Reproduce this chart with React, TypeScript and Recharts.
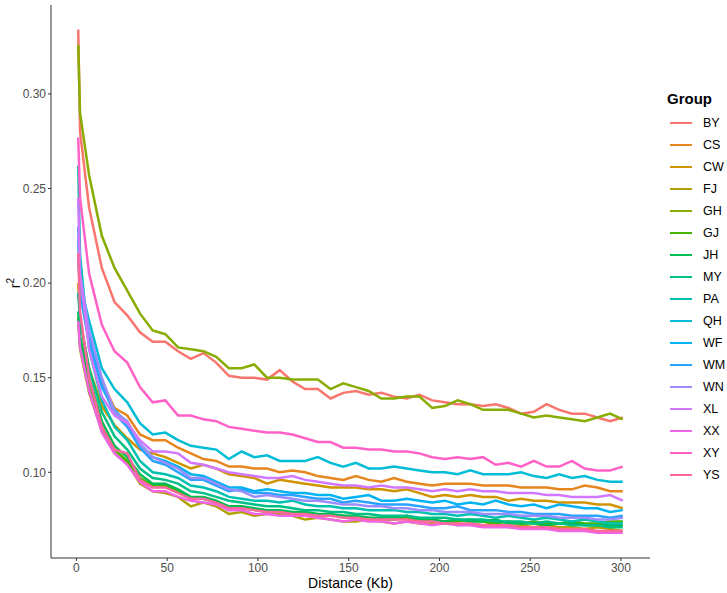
import { Line, LineChart, XAxis, YAxis } from "recharts";

// distance bins (Kb)
const distance = [
  1, 2, 7, 14, 21, 28, 35, 42, 49, 56, 63, 70, 77, 84, 91, 98, 105, 112, 119, 126, 133, 140, 147,
  154, 161, 168, 175, 182, 189, 196, 203, 210, 217, 224, 231, 238, 245, 252, 259, 266, 273, 280,
  287, 294, 301,
];

const groups = ["BY", "CS", "CW", "FJ", "GH", "GJ", "JH", "MY", "PA", "QH", "WF", "WM", "WN", "XL", "XX", "XY", "YS"];

// mean r^2 per bin, one list per group
const BY = [
  0.334, 0.28, 0.24, 0.208, 0.19, 0.183, 0.174, 0.169, 0.169, 0.164, 0.16, 0.163, 0.158, 0.151, 0.15, 0.15, 0.149,
  0.154, 0.148, 0.144, 0.144, 0.139, 0.142, 0.143, 0.141, 0.142, 0.14, 0.139, 0.141, 0.138, 0.137, 0.136, 0.136,
  0.135, 0.136, 0.134, 0.131, 0.132, 0.136, 0.133, 0.131, 0.131, 0.129, 0.127, 0.129,
];
const CS = [
  0.216, 0.195, 0.17, 0.148, 0.134, 0.13, 0.12, 0.117, 0.117, 0.113, 0.11, 0.107, 0.106, 0.103, 0.103, 0.102, 0.102,
  0.1, 0.101, 0.1, 0.098, 0.097, 0.096, 0.098, 0.096, 0.095, 0.097, 0.095, 0.094, 0.093, 0.094, 0.094, 0.094, 0.093,
  0.093, 0.093, 0.092, 0.092, 0.092, 0.091, 0.091, 0.093, 0.092, 0.09, 0.09,
];
const CW = [
  0.2, 0.18, 0.155, 0.135, 0.125, 0.118, 0.112, 0.11, 0.108, 0.105, 0.102, 0.104, 0.102, 0.099, 0.098, 0.097, 0.094,
  0.096, 0.095, 0.094, 0.093, 0.092, 0.092, 0.092, 0.091, 0.091, 0.09, 0.091, 0.089, 0.087, 0.088, 0.087, 0.088,
  0.087, 0.087, 0.085, 0.086, 0.085, 0.085, 0.084, 0.084, 0.084, 0.083, 0.083, 0.081,
];
const FJ = [
  0.18, 0.165, 0.142, 0.122, 0.11, 0.105, 0.094, 0.09, 0.089, 0.087, 0.082, 0.084, 0.082, 0.078, 0.079, 0.077,
  0.078, 0.078, 0.077, 0.075, 0.076, 0.075, 0.074, 0.074, 0.075, 0.074, 0.073, 0.074, 0.073, 0.073, 0.074, 0.072,
  0.073, 0.072, 0.073, 0.071, 0.072, 0.071, 0.072, 0.071, 0.071, 0.07, 0.071, 0.07, 0.069,
];
const GH = [
  0.326, 0.29, 0.257, 0.225, 0.208, 0.196, 0.184, 0.175, 0.173, 0.166, 0.165, 0.164, 0.161, 0.155, 0.155, 0.157,
  0.15, 0.15, 0.149, 0.149, 0.149, 0.144, 0.147, 0.145, 0.143, 0.139, 0.139, 0.14, 0.14, 0.134, 0.135, 0.138, 0.136,
  0.133, 0.133, 0.133, 0.131, 0.129, 0.13, 0.129, 0.128, 0.127, 0.129, 0.131, 0.128,
];
const GJ = [
  0.182, 0.168, 0.145, 0.124, 0.112, 0.106, 0.097, 0.093, 0.093, 0.09, 0.086, 0.086, 0.084, 0.082, 0.081, 0.08,
  0.079, 0.079, 0.078, 0.078, 0.077, 0.077, 0.077, 0.076, 0.076, 0.075, 0.075, 0.076, 0.075, 0.074, 0.074, 0.074,
  0.075, 0.074, 0.073, 0.074, 0.073, 0.074, 0.073, 0.073, 0.074, 0.073, 0.073, 0.074, 0.074,
];
const JH = [
  0.185, 0.172, 0.15, 0.127, 0.114, 0.108, 0.099, 0.094, 0.094, 0.091, 0.087, 0.087, 0.085, 0.082, 0.082, 0.081,
  0.08, 0.08, 0.079, 0.079, 0.078, 0.078, 0.077, 0.077, 0.076, 0.076, 0.076, 0.077, 0.075, 0.075, 0.074, 0.075,
  0.074, 0.074, 0.075, 0.073, 0.073, 0.073, 0.072, 0.073, 0.073, 0.072, 0.072, 0.072, 0.072,
];
const MY = [
  0.195, 0.18, 0.155, 0.132, 0.119, 0.112, 0.102, 0.097, 0.096, 0.094, 0.09, 0.089, 0.087, 0.085, 0.084, 0.083,
  0.082, 0.082, 0.081, 0.08, 0.08, 0.079, 0.079, 0.078, 0.078, 0.077, 0.077, 0.077, 0.076, 0.076, 0.076, 0.075,
  0.075, 0.075, 0.074, 0.074, 0.074, 0.073, 0.074, 0.073, 0.072, 0.072, 0.072, 0.071, 0.071,
];
const PA = [
  0.262, 0.215, 0.165, 0.138, 0.124, 0.117, 0.106, 0.1, 0.099, 0.097, 0.093, 0.092, 0.09, 0.087, 0.086, 0.085,
  0.085, 0.084, 0.085, 0.083, 0.082, 0.082, 0.081, 0.081, 0.08, 0.08, 0.08, 0.079, 0.079, 0.078, 0.078, 0.077,
  0.078, 0.077, 0.076, 0.077, 0.076, 0.075, 0.076, 0.075, 0.074, 0.075, 0.074, 0.073, 0.073,
];
const QH = [
  0.222, 0.2, 0.18, 0.155, 0.144, 0.137, 0.126, 0.12, 0.121, 0.117, 0.114, 0.113, 0.112, 0.107, 0.111, 0.108,
  0.109, 0.106, 0.106, 0.106, 0.108, 0.105, 0.103, 0.105, 0.102, 0.102, 0.103, 0.102, 0.101, 0.1, 0.1, 0.099,
  0.101, 0.099, 0.099, 0.099, 0.1, 0.098, 0.097, 0.099, 0.097, 0.098, 0.096, 0.095, 0.095,
];
const WF = [
  0.215, 0.195, 0.168, 0.145, 0.133, 0.126, 0.115, 0.108, 0.106, 0.103, 0.099, 0.098, 0.095, 0.092, 0.092, 0.09,
  0.091, 0.09, 0.089, 0.089, 0.088, 0.088, 0.086, 0.087, 0.088, 0.085, 0.085, 0.086, 0.085, 0.084, 0.085, 0.083,
  0.084, 0.083, 0.085, 0.083, 0.082, 0.083, 0.081, 0.083, 0.082, 0.081, 0.081, 0.079, 0.08,
];
const WM = [
  0.23, 0.205, 0.172, 0.146, 0.131, 0.124, 0.113, 0.106, 0.104, 0.1, 0.096, 0.096, 0.093, 0.09, 0.091, 0.089, 0.089,
  0.088, 0.088, 0.087, 0.086, 0.086, 0.084, 0.085, 0.084, 0.083, 0.083, 0.083, 0.082, 0.081, 0.081, 0.082, 0.08,
  0.08, 0.08, 0.079, 0.079, 0.078, 0.078, 0.078, 0.077, 0.077, 0.077, 0.076, 0.077,
];
const WN = [
  0.225, 0.205, 0.175, 0.15, 0.132, 0.127, 0.115, 0.108, 0.105, 0.102, 0.097, 0.097, 0.094, 0.091, 0.09, 0.087,
  0.088, 0.087, 0.086, 0.085, 0.085, 0.084, 0.083, 0.083, 0.082, 0.082, 0.081, 0.081, 0.08, 0.08, 0.079, 0.079,
  0.079, 0.078, 0.078, 0.078, 0.077, 0.077, 0.077, 0.076, 0.076, 0.076, 0.075, 0.075, 0.076,
];
const XL = [
  0.245, 0.205, 0.165, 0.14, 0.13, 0.126, 0.117, 0.111, 0.111, 0.11, 0.105, 0.104, 0.102, 0.1, 0.099, 0.098, 0.097,
  0.097, 0.098, 0.096, 0.095, 0.094, 0.093, 0.093, 0.092, 0.093, 0.092, 0.092, 0.091, 0.09, 0.091, 0.09, 0.091,
  0.09, 0.09, 0.089, 0.089, 0.089, 0.088, 0.088, 0.087, 0.087, 0.087, 0.088, 0.085,
];
const XX = [
  0.18, 0.166, 0.143, 0.121, 0.11, 0.104, 0.095, 0.09, 0.09, 0.087, 0.085, 0.084, 0.083, 0.08, 0.08, 0.078, 0.078,
  0.077, 0.077, 0.077, 0.076, 0.075, 0.074, 0.075, 0.074, 0.074, 0.073, 0.074, 0.073, 0.072, 0.073, 0.072, 0.072,
  0.071, 0.071, 0.071, 0.07, 0.07, 0.07, 0.069, 0.069, 0.069, 0.068, 0.068, 0.068,
];
const XY = [
  0.277, 0.245, 0.205, 0.178, 0.164, 0.158, 0.145, 0.137, 0.138, 0.13, 0.13, 0.128, 0.127, 0.124, 0.123, 0.122,
  0.121, 0.121, 0.12, 0.118, 0.116, 0.116, 0.113, 0.113, 0.112, 0.112, 0.111, 0.111, 0.11, 0.108, 0.107, 0.108,
  0.107, 0.108, 0.104, 0.105, 0.103, 0.106, 0.103, 0.103, 0.106, 0.102, 0.101, 0.101, 0.103,
];
const YS = [
  0.216, 0.185, 0.15, 0.124, 0.112, 0.11, 0.096, 0.092, 0.092, 0.089, 0.086, 0.086, 0.084, 0.081, 0.081, 0.08,
  0.079, 0.079, 0.078, 0.078, 0.077, 0.077, 0.076, 0.076, 0.075, 0.075, 0.075, 0.075, 0.074, 0.074, 0.073, 0.073,
  0.073, 0.072, 0.072, 0.072, 0.071, 0.071, 0.071, 0.07, 0.07, 0.07, 0.069, 0.069, 0.069,
];

const series: Record<string, number[]> = { BY, CS, CW, FJ, GH, GJ, JH, MY, PA, QH, WF, WM, WN, XL, XX, XY, YS };

const xTicks = [0, 50, 100, 150, 200, 250, 300];
const yTicks = [0.1, 0.15, 0.2, 0.25, 0.3];

// ggplot's default hue palette: hcl(h, c = 100, l = 65)
function hcl(h: number, c = 100, l = 65) {
  const hr = (h * Math.PI) / 180;
  const u = c * Math.cos(hr);
  const v = c * Math.sin(hr);
  const Xn = 95.047, Yn = 100, Zn = 108.883;
  const d = Xn + 15 * Yn + 3 * Zn;
  const un = (4 * Xn) / d, vn = (9 * Yn) / d;
  const Y = Yn * Math.pow((l + 16) / 116, 3);
  const up = u / (13 * l) + un;
  const vp = v / (13 * l) + vn;
  const X = (Y * 9 * up) / (4 * vp);
  const Z = (Y * (12 - 3 * up - 20 * vp)) / (4 * vp);
  const x = X / 100, y = Y / 100, z = Z / 100;
  const lin = [
    3.240479 * x - 1.53715 * y - 0.498535 * z,
    -0.969256 * x + 1.875992 * y + 0.041556 * z,
    0.055648 * x - 0.204043 * y + 1.057311 * z,
  ];
  return (
    "#" +
    lin
      .map((c) => {
        const g = c <= 0.0031308 ? 12.92 * c : 1.055 * Math.pow(c, 1 / 2.4) - 0.055;
        const n = Math.round(Math.min(1, Math.max(0, g)) * 255);
        return n.toString(16).padStart(2, "0");
      })
      .join("")
  );
}

const colors = groups.map((_, i) => hcl(15 + (i * 360) / groups.length));

const data = distance.map((d, i) => {
  const row: Record<string, number> = { d };
  groups.forEach((g) => (row[g] = series[g][i]));
  return row;
});

const font = "'Liberation Sans', Arial, Helvetica, sans-serif";

export default function App() {
  return (
    <div style={{ position: "absolute", left: 0, top: 0, width: 727, height: 593, fontFamily: font, background: "#fff" }}>
      <LineChart width={727} height={593} data={data} margin={{ top: 5, right: 77, bottom: 0, left: 0 }}>
        <XAxis
          dataKey="d"
          type="number"
          domain={[-14, 316]}
          ticks={xTicks}
          allowDataOverflow
          height={35}
          stroke="#333"
          tickSize={3}
          tick={{ fill: "#4d4d4d", fontSize: 12, fontFamily: font }}
          tickMargin={2}
          label={{ value: "Distance (Kb)", position: "insideBottom", offset: 5, fill: "#000", fontSize: 14, fontFamily: font }}
        />
        <YAxis
          type="number"
          domain={[0.0547, 0.347]}
          ticks={yTicks}
          allowDataOverflow
          width={51}
          stroke="#333"
          tickSize={3}
          tickMargin={2}
          tickFormatter={(v: number) => v.toFixed(2)}
          tick={{ fill: "#4d4d4d", fontSize: 12, fontFamily: font }}
          label={{
            content: () => (
              <text x={20} y={283} transform="rotate(-90 20 283)" textAnchor="middle" fontSize={14} fontFamily={font} fill="#000">
                r<tspan dy={-6} fontSize={10}>2</tspan>
              </text>
            ),
          }}
        />
        {groups.map((g, i) => (
          <Line key={g} dataKey={g} type="linear" stroke={colors[i]} strokeWidth={2.5} dot={false} isAnimationActive={false} />
        ))}
      </LineChart>
      <div style={{ position: "absolute", left: 667, top: 90 }}>
        <div style={{ fontSize: 15, fontWeight: "bold", marginBottom: 5 }}>Group</div>
        {groups.map((g, i) => (
          <div key={g} style={{ display: "flex", alignItems: "center", height: 22, fontSize: 12.5 }}>
            <span style={{ display: "inline-block", width: 22, height: 2.5, background: colors[i], marginLeft: 3, marginRight: 11 }} />
            {g}
          </div>
        ))}
      </div>
    </div>
  );
}
